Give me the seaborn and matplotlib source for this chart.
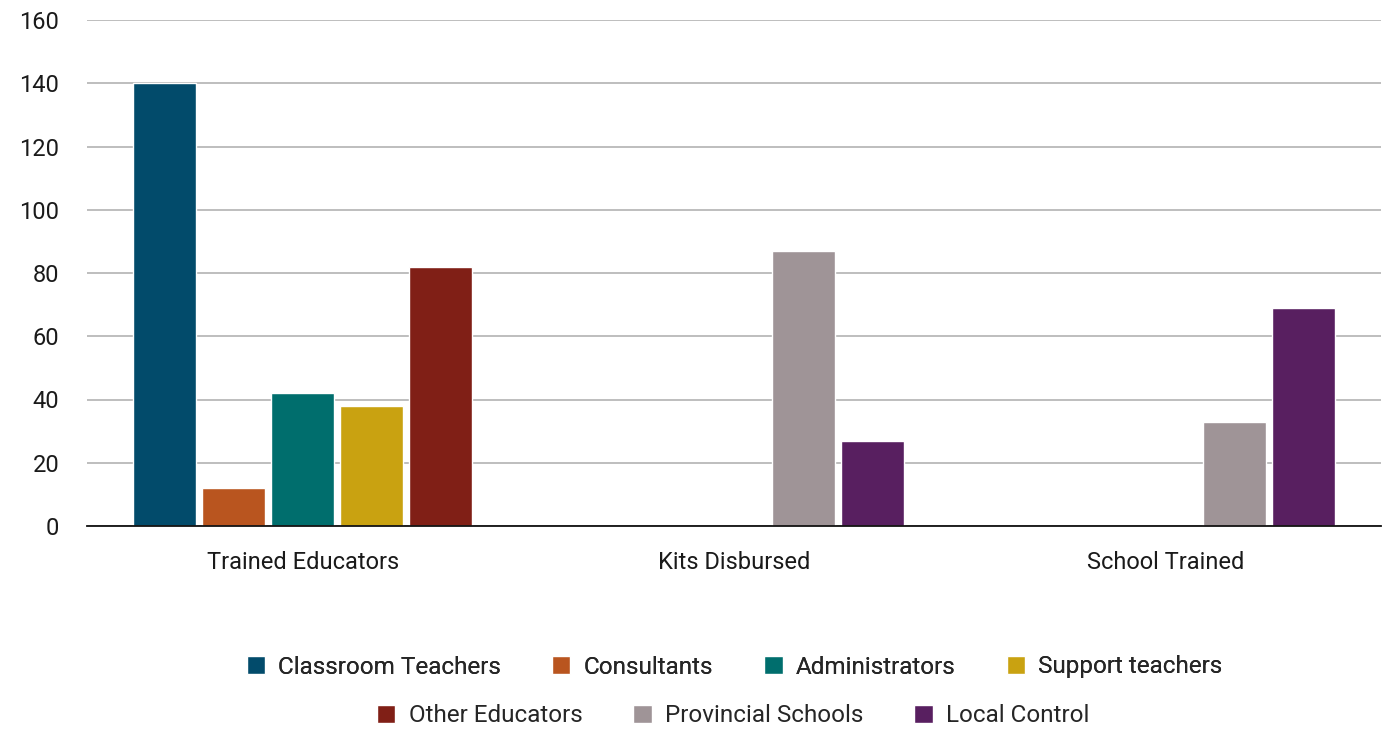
import pandas as pd
import matplotlib.pyplot as plt
import seaborn as sns
from matplotlib.patches import Patch

categories = ['Trained Educators', 'Kits Disbursed', 'School Trained']
series = ['Classroom Teachers', 'Consultants', 'Administrators', 'Support teachers',
          'Other Educators', 'Provincial Schools', 'Local Control']
colors = ['#024B6B', '#B9551F', '#006E6D', '#C9A211', '#801F16', '#9F9497', '#581F60']

# values per category (only series that have a bar)
trained = {'Classroom Teachers': 140, 'Consultants': 12, 'Administrators': 42,
           'Support teachers': 38, 'Other Educators': 82}
kits = {'Provincial Schools': 87, 'Local Control': 27}
school = {'Provincial Schools': 33, 'Local Control': 69}

# slot inside a group (the original chart reuses slots 4-5 for the last two series)
slot = {'Classroom Teachers': -2, 'Consultants': -1, 'Administrators': 0,
        'Support teachers': 1, 'Other Educators': 2, 'Provincial Schools': 1,
        'Local Control': 2}
step = 0.16

rows = []
for i, vals in enumerate([trained, kits, school]):
    for s, v in vals.items():
        rows.append({'x': round(i + slot[s] * step, 4), 'value': v, 'series': s})
df = pd.DataFrame(rows)

sns.set_style('white')
plt.rcParams['font.family'] = ['Roboto', 'DejaVu Sans']

fig = plt.figure(figsize=(13.94, 7.30), dpi=100)
ax = fig.add_axes([87 / 1394, 1 - 526 / 730, 1294 / 1394, 506 / 730])

sns.barplot(data=df, x='x', y='value', hue='series', hue_order=series,
            palette=dict(zip(series, colors)), native_scale=True, dodge=False,
            width=63 / 69, saturation=1, legend=False, ax=ax)

ax.set_xlim(-0.5, 2.5)
ax.set_ylim(0, 160)
ax.set_yticks(range(0, 161, 20))
ax.set_xticks(range(len(categories)))
ax.set_xticklabels(categories)
ax.tick_params(axis='both', labelsize=17, colors='#1a1a1a', length=0)
ax.tick_params(axis='x', pad=18)
ax.tick_params(axis='y', pad=20)
ax.grid(axis='y', color='#b3b3b3', linewidth=1.2)
ax.set_axisbelow(True)
ax.set_xlabel('')
ax.set_ylabel('')
for side in ['left', 'right', 'top']:
    ax.spines[side].set_visible(False)
ax.spines['bottom'].set_color('#111111')
ax.spines['bottom'].set_linewidth(1.3)
ax.spines['bottom'].set_zorder(5)

handles = [Patch(facecolor=c, label=s) for s, c in zip(series, colors)]
leg_kw = dict(loc='center', frameon=False, fontsize=17.5, handlelength=0.75,
              handleheight=0.75, handletextpad=0.55, columnspacing=2.1)
leg1 = fig.legend(handles=handles[:4], bbox_to_anchor=(0.527, 1 - 667 / 730), ncol=4, **leg_kw)
fig.legend(handles=handles[4:], bbox_to_anchor=(0.526, 1 - 716 / 730), ncol=3, **leg_kw)
fig.add_artist(leg1)

fig.savefig('out.png', dpi=100)
